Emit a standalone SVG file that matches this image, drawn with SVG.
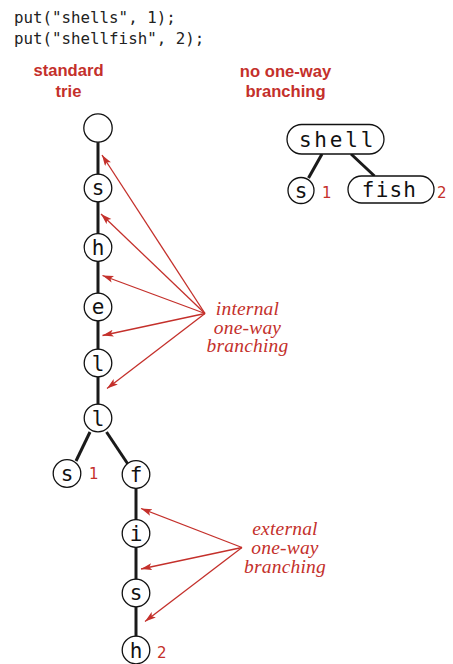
<svg xmlns="http://www.w3.org/2000/svg" width="453" height="664" viewBox="0 0 453 664">
<style>
.code{font-family:"DejaVu Sans Mono","Liberation Mono",monospace;font-size:15.8px;fill:#222}
.hdr{font-family:"Liberation Sans",Arial,sans-serif;font-weight:bold;font-size:16.6px;fill:#c4302b;text-anchor:middle}
.nd{fill:#fff;stroke:#111;stroke-width:1.3}
.lt{font-family:"DejaVu Sans Mono","Liberation Mono",monospace;font-size:21px;fill:#111;text-anchor:middle}
.val{font-family:"DejaVu Sans","Liberation Sans",sans-serif;font-size:15px;fill:#c4302b}
.edge{stroke:#1a1a1a;stroke-width:3;fill:none}
.arr{stroke:#c4302b;stroke-width:1.3;fill:none;marker-end:url(#ah)}
.note{font-family:"Liberation Serif","Times New Roman",serif;font-style:italic;font-size:19.5px;fill:#c4302b;text-anchor:middle;letter-spacing:0.2px}
</style>
<defs>
<marker id="ah" markerUnits="userSpaceOnUse" markerWidth="12" markerHeight="8" refX="11" refY="3.5" orient="auto">
<path d="M0,0 L11,3.5 L0,7 L2.5,3.5 Z" fill="#c4302b"/>
</marker>
</defs>
<g id="code">
<text class="code" x="14" y="23">put("shells", 1);</text>
<text class="code" x="14" y="44">put("shellfish", 2);</text>
</g>
<g id="headers">
<text class="hdr" x="68.5" y="76">standard</text>
<text class="hdr" x="68.5" y="97">trie</text>
<text class="hdr" x="285.5" y="77">no one-way</text>
<text class="hdr" x="285.5" y="97">branching</text>
</g>
<g id="connectors">
<line class="edge" x1="98" y1="128" x2="98" y2="417"/>
<line class="edge" x1="90" y1="432" x2="76" y2="461"/>
<line class="edge" x1="106.5" y1="432" x2="128.5" y2="465"/>
<line class="edge" x1="136" y1="474" x2="136" y2="650"/>
<line class="edge" x1="322" y1="154" x2="308.5" y2="178"/>
<line class="edge" x1="351" y1="154" x2="374.5" y2="176"/>
<line class="arr" x1="205" y1="313.5" x2="102" y2="155"/>
<line class="arr" x1="205" y1="313.5" x2="101" y2="214"/>
<line class="arr" x1="205" y1="313.5" x2="102.5" y2="275.5"/>
<line class="arr" x1="205" y1="313.5" x2="102.5" y2="335.5"/>
<line class="arr" x1="205" y1="313.5" x2="107" y2="388.5"/>
<line class="arr" x1="242" y1="547.5" x2="141" y2="508.5"/>
<line class="arr" x1="242" y1="547.5" x2="141" y2="569"/>
<line class="arr" x1="242" y1="547.5" x2="145" y2="621.5"/>
</g>
<g id="n-root"><circle class="nd" cx="98" cy="128" r="14.2"/></g>
<g id="n-s"><circle class="nd" cx="98" cy="188" r="13.8"/><text class="lt" x="98" y="195">s</text></g>
<g id="n-h"><circle class="nd" cx="98" cy="247.5" r="13.8"/><text class="lt" x="98" y="255">h</text></g>
<g id="n-e"><circle class="nd" cx="98" cy="307" r="13.8"/><text class="lt" x="98" y="314">e</text></g>
<g id="n-l1"><circle class="nd" cx="98" cy="363" r="13.8"/><text class="lt" x="98" y="370.5">l</text></g>
<g id="n-l2"><circle class="nd" cx="98" cy="418" r="13.8"/><text class="lt" x="98" y="425.5">l</text></g>
<g id="n-s2"><circle class="nd" cx="67" cy="473.5" r="13.8"/><text class="lt" x="67" y="480.5">s</text><text class="val" x="89" y="478.5">1</text></g>
<g id="n-f"><circle class="nd" cx="136" cy="474.5" r="13.8"/><text class="lt" x="136" y="482">f</text></g>
<g id="n-i"><circle class="nd" cx="136" cy="533.5" r="13.8"/><text class="lt" x="136" y="541">i</text></g>
<g id="n-s3"><circle class="nd" cx="136" cy="593" r="13.8"/><text class="lt" x="136" y="600">s</text></g>
<g id="n-h2"><circle class="nd" cx="136" cy="650" r="13.8"/><text class="lt" x="136" y="657.5">h</text><text class="val" x="157" y="657.5">2</text></g>
<g id="n-shell"><rect class="nd" x="287" y="124.5" width="97" height="29.5" rx="14.75"/><text class="lt" x="337.5" y="147" letter-spacing="2.8">shell</text></g>
<g id="n-rs"><circle class="nd" cx="301" cy="190.5" r="13"/><text class="lt" x="301" y="197.5">s</text><text class="val" x="322" y="198">1</text></g>
<g id="n-fish"><rect class="nd" x="348" y="176" width="86" height="27" rx="13.5"/><text class="lt" x="389.5" y="197" letter-spacing="1.2">fish</text><text class="val" x="437" y="198">2</text></g>
<g id="note-internal">
<text class="note" x="247.5" y="315">internal</text>
<text class="note" x="247.5" y="333.5">one-way</text>
<text class="note" x="247.5" y="352">branching</text>
</g>
<g id="note-external">
<text class="note" x="285" y="535">external</text>
<text class="note" x="285" y="554">one-way</text>
<text class="note" x="285" y="572.5">branching</text>
</g>
</svg>
